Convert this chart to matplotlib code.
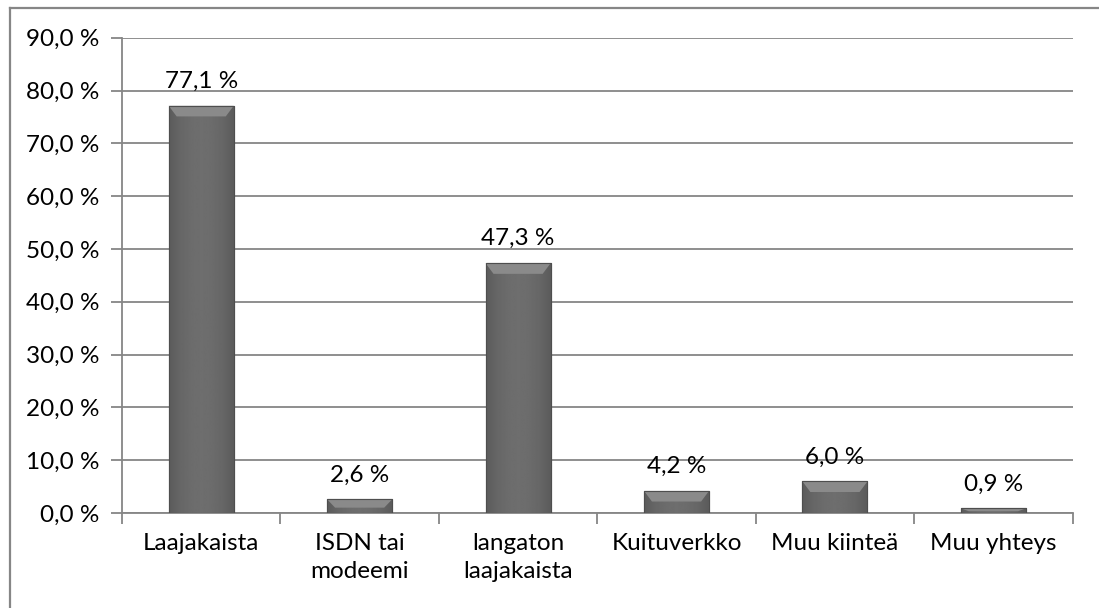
import numpy as np
import matplotlib
matplotlib.use("Agg")
from matplotlib import pyplot as plt
from matplotlib.patches import Polygon
from matplotlib.lines import Line2D

kategoriat = ["Laajakaista", "ISDN tai\nmodeemi", "langaton\nlaajakaista",
              "Kuituverkko", "Muu kiinteä", "Muu yhteys"]
arvot = [77.1, 2.6, 47.3, 4.2, 6.0, 0.9]
y_tikit = [0, 10, 20, 30, 40, 50, 60, 70, 80, 90]

plt.rcParams['font.family'] = ['Lato', 'DejaVu Sans']
fs = 17.5

fig = plt.figure(figsize=(10.99, 6.08), dpi=100)
ax = fig.add_axes([0.111, 0.156, 0.865, 0.782])

x = np.arange(len(kategoriat))
palkit = ax.bar(x, arvot, width=0.41, color="#646464", edgecolor="#4e4e4e",
                linewidth=0.8, zorder=3)

ax.set_xlim(-0.5, len(kategoriat) - 0.5)
ax.set_ylim(0, 90)

# varjostus: tummemmat reunat ja vaaleampi viiste ylhäällä
grad = 0.36 + 0.07 * (1 - np.abs(np.linspace(-1, 1, 60)) ** 2)
for p in palkit:
    bx, bw, bh = p.get_x(), p.get_width(), p.get_height()
    im = ax.imshow(grad[None, :], extent=(bx, bx + bw, 0, bh), aspect="auto",
                   cmap="gray", vmin=0, vmax=1, zorder=4)
    im.set_clip_path(p)
    dx = 0.05
    dy = min(2.0, bh * 0.6)
    ax.add_patch(Polygon([(bx, bh), (bx + bw, bh), (bx + bw - dx, bh - dy),
                          (bx + dx, bh - dy)], closed=True, facecolor="#8a8a8a",
                         edgecolor="none", zorder=5))
    ax.add_patch(Polygon([(bx, bh), (bx + bw, bh), (bx + bw, 0), (bx, 0)],
                         closed=True, facecolor="none", edgecolor="#4e4e4e",
                         linewidth=0.8, zorder=6))

for xi, v in zip(x, arvot):
    ax.text(xi, v + 3.4, f"{v:.1f} %".replace(".", ","), ha="center",
            va="baseline", fontsize=fs, color="black")

ax.set_yticks(y_tikit)
ax.set_yticklabels([f"{t:.1f} %".replace(".", ",") for t in y_tikit], fontsize=fs)
ax.set_xticks(x)
ax.set_xticklabels(kategoriat, fontsize=fs, linespacing=1.45)
ax.set_xticks(np.arange(-0.5, len(kategoriat)), minor=True)
ax.tick_params(axis="x", which="major", length=0, pad=14)
ax.tick_params(axis="x", which="minor", length=8, color="#868686", width=1.3)
ax.tick_params(axis="y", length=8, color="#868686", width=1.3, pad=8)

ax.grid(axis="y", color="#868686", linewidth=1.3, zorder=0)
for s in ["top", "right"]:
    ax.spines[s].set_visible(False)
for s in ["left", "bottom"]:
    ax.spines[s].set_color("#868686")
    ax.spines[s].set_linewidth(1.3)

# kehys vain vasemmalla ja ylhäällä (kuva on rajattu)
fig.add_artist(Line2D([0.0095, 0.0095], [0, 0.987], transform=fig.transFigure,
                      color="#868686", linewidth=1.6))
fig.add_artist(Line2D([0.0095, 1.0], [0.987, 0.987], transform=fig.transFigure,
                      color="#868686", linewidth=1.6))

fig.savefig("out.png", dpi=100)
